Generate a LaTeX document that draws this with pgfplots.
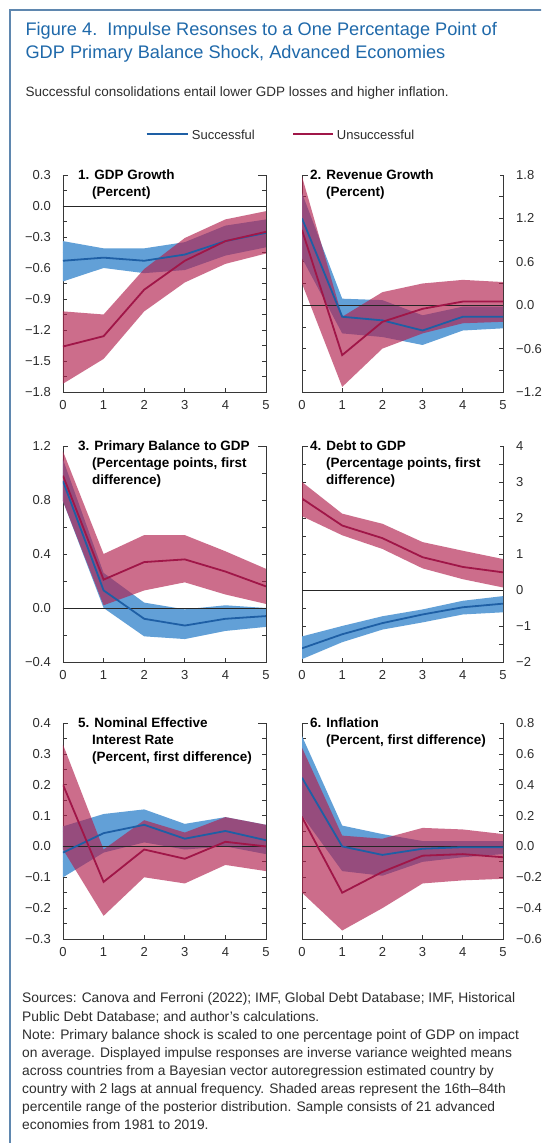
\documentclass[border=0pt]{standalone}
\usepackage{pgfplots}
\pgfplotsset{compat=1.18}
\usepackage{fontspec}
\setmainfont{Liberation Sans}

\definecolor{imfblue}{RGB}{31,105,170}
\definecolor{framec}{RGB}{95,135,175}
\definecolor{sline}{RGB}{30,95,165}
\definecolor{sband}{RGB}{98,160,215}
\definecolor{uline}{RGB}{160,22,72}
\definecolor{uband}{RGB}{178,32,78}
\definecolor{axc}{RGB}{55,55,55}
\definecolor{txt}{RGB}{45,45,45}

\newcommand{\tickfont}{\fontsize{13}{13}\selectfont}
\newcommand{\ptitlefont}{\fontsize{13.5}{13.5}\selectfont\bfseries}

\pgfplotsset{
  irf/.style={
    scale only axis, anchor=north west,
    xmin=0, xmax=5, xtick={0,1,2,3,4,5}, xticklabels={0,1,2,3,4,5},
    xtick pos=bottom, ytick pos=both,
    tick align=inside,
    major tick length=4pt, minor tick length=4pt,
    axis line style={axc, line width=0.8pt},
    every tick/.style={axc, line width=0.7pt},
    tick label style={font=\tickfont, text=txt},
    /pgf/number format/assume math mode=true,
    xticklabel style={yshift=-5pt},
    clip=true,
  },
  irfleft/.style={irf, yticklabel pos=left, yticklabel style={xshift=-8.7pt}},
  irfright/.style={irf, yticklabel pos=right, yticklabel style={xshift=9.7pt}},
  sband/.style={draw=none, fill=sband},
  uband/.style={draw=none, fill=uband, fill opacity=0.65},
  sl/.style={sline, line width=1.8pt},
  ul/.style={uline, line width=1.8pt},
  zl/.style={black!85, line width=0.8pt},
}

\begin{document}
\begin{tikzpicture}[x=1pt,y=1pt]
\useasboundingbox (0pt,0pt) rectangle (541pt,1143pt);
\clip (0pt,0pt) rectangle (541pt,1143pt);
\fill[white] (0pt,0pt) rectangle (541pt,1143pt);

% outer frame
\draw[framec, line width=2pt] (9.5pt,-5pt) -- (9.5pt,1133pt) -- (600pt,1133pt);

% heading
\node[anchor=base west, text=imfblue, font=\fontsize{18.2}{18.2}\selectfont] at (22pt,1107pt) {Figure 4.\ \ Impulse Resonses to a One Percentage Point of};
\node[anchor=base west, text=imfblue, font=\fontsize{18.2}{18.2}\selectfont] at (22pt,1084.7pt) {GDP Primary Balance Shock, Advanced Economies};
\node[anchor=base west, text=txt, font=\fontsize{13.5}{13.5}\selectfont] at (22pt,1046.3pt) {Successful consolidations entail lower GDP losses and higher inflation.};

% legend
\draw[sline, line width=2pt] (146.7pt,1009pt) -- (188.3pt,1009pt);
\node[anchor=base west, text=txt, font=\fontsize{13}{13}\selectfont, inner sep=0pt] at (191.7pt,1003.7pt) {Successful};
\draw[uline, line width=2pt] (293.3pt,1009pt) -- (333.3pt,1009pt);
\node[anchor=base west, text=txt, font=\fontsize{13}{13}\selectfont, inner sep=0pt] at (336.7pt,1003.7pt) {Unsuccessful};

% ---------- 1. GDP growth ----------
\begin{axis}[irfleft, at={(63pt,968pt)}, width=203pt, height=217pt,
  ymin=-1.8, ymax=0.3,
  ytick={-1.8,-1.5,-1.2,-0.9,-0.6,-0.3,0,0.3},
  yticklabels={−1.8,−1.5,−1.2,−0.9,−0.6,−0.3,0.0,0.3},
  minor ytick={-1.65,-1.35,-1.05,-0.75,-0.45,-0.15,0.15}]
\addplot[sband] coordinates {(0,-0.34) (1,-0.41) (2,-0.41) (3,-0.35) (4,-0.19) (5,-0.13)
  (5,-0.40) (4,-0.48) (3,-0.62) (2,-0.65) (1,-0.60) (0,-0.73)} -- cycle;
\addplot[uband] coordinates {(0,-1.02) (1,-1.05) (2,-0.61) (3,-0.31) (4,-0.13) (5,-0.05)
  (5,-0.46) (4,-0.56) (3,-0.74) (2,-1.02) (1,-1.48) (0,-1.72)} -- cycle;
\addplot[zl] coordinates {(0,0) (5,0)};
\addplot[sl] coordinates {(0,-0.53) (1,-0.50) (2,-0.53) (3,-0.47) (4,-0.34) (5,-0.26)};
\addplot[ul] coordinates {(0,-1.36) (1,-1.26) (2,-0.81) (3,-0.53) (4,-0.34) (5,-0.25)};
\end{axis}

% ---------- 2. Revenue growth ----------
\begin{axis}[irfright, at={(302pt,968pt)}, width=201pt, height=217pt,
  ymin=-1.2, ymax=1.8,
  ytick={-1.2,-0.6,0,0.6,1.2,1.8},
  yticklabels={−1.2,−0.6,0.0,0.6,1.2,1.8},
  minor ytick={-0.9,-0.3,0.3,0.9,1.5}]
\addplot[sband] coordinates {(0,1.55) (1,0.09) (2,0.07) (3,-0.14) (4,-0.02) (5,-0.02)
  (5,-0.32) (4,-0.35) (3,-0.55) (2,-0.44) (1,-0.39) (0,0.65)} -- cycle;
\addplot[uband] coordinates {(0,1.78) (1,-0.16) (2,0.18) (3,0.30) (4,0.35) (5,0.32)
  (5,-0.23) (4,-0.25) (3,-0.39) (2,-0.60) (1,-1.13) (0,0.30)} -- cycle;
\addplot[zl] coordinates {(0,0) (5,0)};
\addplot[sl] coordinates {(0,1.20) (1,-0.16) (2,-0.21) (3,-0.35) (4,-0.16) (5,-0.16)};
\addplot[ul] coordinates {(0,1.04) (1,-0.69) (2,-0.23) (3,-0.05) (4,0.05) (5,0.05)};
\end{axis}

% ---------- 3. Primary balance to GDP ----------
\begin{axis}[irfleft, at={(63pt,697pt)}, width=203pt, height=216pt,
  ymin=-0.4, ymax=1.2,
  ytick={-0.4,0,0.4,0.8,1.2},
  yticklabels={−0.4,0.0,0.4,0.8,1.2},
  minor ytick={-0.2,0.2,0.6,1.0}]
\addplot[sband] coordinates {(0,1.10) (1,0.26) (2,0.04) (3,-0.01) (4,0.02) (5,0.00)
  (5,-0.14) (4,-0.17) (3,-0.23) (2,-0.21) (1,0.00) (0,0.79)} -- cycle;
\addplot[uband] coordinates {(0,1.16) (1,0.40) (2,0.54) (3,0.54) (4,0.42) (5,0.29)
  (5,0.03) (4,0.10) (3,0.19) (2,0.13) (1,0.02) (0,0.79)} -- cycle;
\addplot[zl] coordinates {(0,0) (5,0)};
\addplot[sl] coordinates {(0,0.94) (1,0.13) (2,-0.08) (3,-0.13) (4,-0.08) (5,-0.06)};
\addplot[ul] coordinates {(0,0.98) (1,0.21) (2,0.34) (3,0.36) (4,0.27) (5,0.16)};
\end{axis}

% ---------- 4. Debt to GDP ----------
\begin{axis}[irfright, at={(302pt,697pt)}, width=201pt, height=216pt,
  ymin=-2, ymax=4,
  ytick={-2,-1,0,1,2,3,4},
  yticklabels={−2,−1,0,1,2,3,4},
  minor ytick={-1.5,-0.5,0.5,1.5,2.5,3.5}]
\addplot[sband] coordinates {(0,-1.29) (1,-1.00) (2,-0.73) (3,-0.54) (4,-0.30) (5,-0.17)
  (5,-0.62) (4,-0.68) (3,-0.90) (2,-1.10) (1,-1.45) (0,-1.92)} -- cycle;
\addplot[uband] coordinates {(0,3.00) (1,2.12) (2,1.84) (3,1.33) (4,1.09) (5,0.86)
  (5,0.07) (4,0.30) (3,0.60) (2,1.14) (1,1.52) (0,2.05)} -- cycle;
\addplot[zl] coordinates {(0,0) (5,0)};
\addplot[sl] coordinates {(0,-1.62) (1,-1.23) (2,-0.92) (3,-0.68) (4,-0.48) (5,-0.38)};
\addplot[ul] coordinates {(0,2.54) (1,1.79) (2,1.44) (3,0.91) (4,0.64) (5,0.49)};
\end{axis}

% ---------- 5. Nominal effective interest rate ----------
\begin{axis}[irfleft, at={(63pt,420pt)}, width=203pt, height=216pt,
  ymin=-0.3, ymax=0.4,
  ytick={-0.3,-0.2,-0.1,0,0.1,0.2,0.3,0.4},
  yticklabels={−0.3,−0.2,−0.1,0.0,0.1,0.2,0.3,0.4},
  minor ytick={-0.25,-0.15,-0.05,0.05,0.15,0.25,0.35}]
\addplot[sband] coordinates {(0,0.065) (1,0.105) (2,0.12) (3,0.073) (4,0.095) (5,0.07)
  (5,-0.025) (4,0.0) (3,-0.01) (2,0.013) (1,-0.02) (0,-0.10)} -- cycle;
\addplot[uband] coordinates {(0,0.33) (1,-0.01) (2,0.085) (3,0.045) (4,0.095) (5,0.07)
  (5,-0.08) (4,-0.06) (3,-0.12) (2,-0.10) (1,-0.225) (0,-0.01)} -- cycle;
\addplot[zl] coordinates {(0,0) (5,0)};
\addplot[sl] coordinates {(0,-0.02) (1,0.043) (2,0.07) (3,0.025) (4,0.05) (5,0.02)};
\addplot[ul] coordinates {(0,0.20) (1,-0.115) (2,-0.01) (3,-0.04) (4,0.015) (5,0.0)};
\end{axis}

% ---------- 6. Inflation ----------
\begin{axis}[irfright, at={(302pt,420pt)}, width=201pt, height=216pt,
  ymin=-0.6, ymax=0.8,
  ytick={-0.6,-0.4,-0.2,0,0.2,0.4,0.6,0.8},
  yticklabels={−0.6,−0.4,−0.2,0.0,0.2,0.4,0.6,0.8},
  minor ytick={-0.5,-0.3,-0.1,0.1,0.3,0.5,0.7}]
\addplot[sband] coordinates {(0,0.715) (1,0.135) (2,0.08) (3,0.035) (4,0.035) (5,0.035)
  (5,-0.05) (4,-0.07) (3,-0.10) (2,-0.19) (1,-0.16) (0,0.20)} -- cycle;
\addplot[uband] coordinates {(0,0.64) (1,0.07) (2,0.05) (3,0.12) (4,0.11) (5,0.08)
  (5,-0.21) (4,-0.22) (3,-0.24) (2,-0.40) (1,-0.545) (0,-0.30)} -- cycle;
\addplot[zl] coordinates {(0,0) (5,0)};
\addplot[sl] coordinates {(0,0.445) (1,0.0) (2,-0.055) (3,-0.015) (4,-0.005) (5,-0.005)};
\addplot[ul] coordinates {(0,0.19) (1,-0.30) (2,-0.165) (3,-0.06) (4,-0.05) (5,-0.07)};
\end{axis}

% panel titles (white strip masks the top frame of each panel)
\fill[white] (68pt,962pt) rectangle (258pt,975pt);
\fill[white] (308pt,962pt) rectangle (500pt,975pt);
\fill[white] (68pt,691pt) rectangle (258pt,704pt);
\fill[white] (308pt,691pt) rectangle (500pt,704pt);
\fill[white] (68pt,414pt) rectangle (258pt,427pt);
\fill[white] (308pt,414pt) rectangle (500pt,427pt);
\begin{scope}[every node/.style={anchor=base west, inner sep=0pt, font=\ptitlefont}]
\node at (78pt,963pt) {1. GDP Growth};
\node at (92pt,946pt) {(Percent)};
\node at (310pt,963pt) {2. Revenue Growth};
\node at (326pt,946pt) {(Percent)};
\node at (78pt,692pt) {3. Primary Balance to GDP};
\node at (92pt,675pt) {(Percentage points, first};
\node at (92pt,658pt) {difference)};
\node at (310pt,692pt) {4. Debt to GDP};
\node at (326pt,675pt) {(Percentage points, first};
\node at (326pt,658pt) {difference)};
\node at (78pt,415pt) {5. Nominal Effective};
\node at (92pt,398pt) {Interest Rate};
\node at (92pt,381pt) {(Percent, first difference)};
\node at (310pt,415pt) {6. Inflation};
\node at (326pt,398pt) {(Percent, first difference)};
\end{scope}

% sources and notes
\begin{scope}[every node/.style={anchor=base west, inner sep=0pt, text=txt, font=\fontsize{13.8}{13.8}\selectfont}]
\node at (22pt,140pt) {Sources: Canova and Ferroni (2022); IMF, Global Debt Database; IMF, Historical};
\node at (22pt,121.9pt) {Public Debt Database; and author's calculations.};
\node at (22pt,103.8pt) {Note: Primary balance shock is scaled to one percentage point of GDP on impact};
\node at (22pt,85.7pt) {on average. Displayed impulse responses are inverse variance weighted means};
\node at (22pt,67.6pt) {across countries from a Bayesian vector autoregression estimated country by};
\node at (22pt,49.5pt) {country with 2 lags at annual frequency. Shaded areas represent the 16th--84th};
\node at (22pt,31.4pt) {percentile range of the posterior distribution. Sample consists of 21 advanced};
\node at (22pt,13.3pt) {economies from 1981 to 2019.};
\end{scope}
\end{tikzpicture}
\end{document}
